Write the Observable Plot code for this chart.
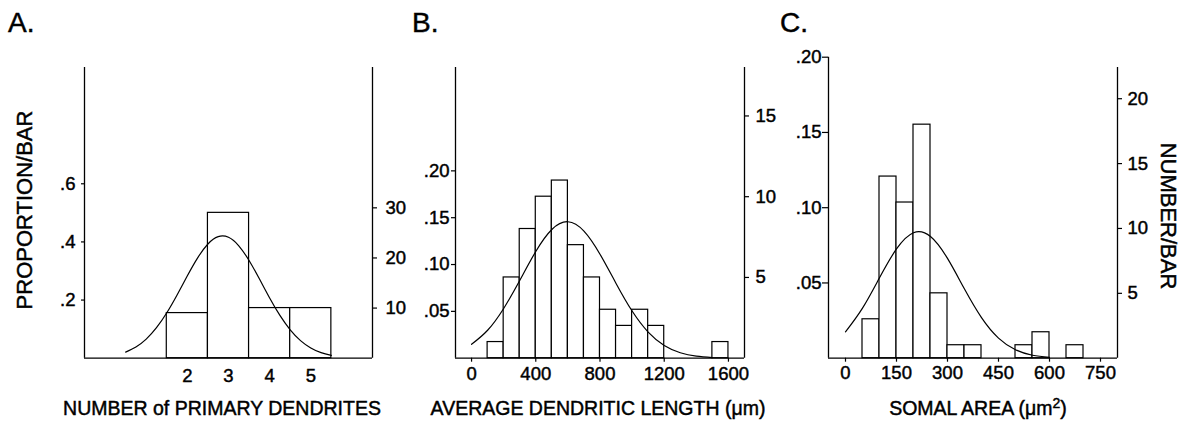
<!DOCTYPE html>
<html><head><meta charset="utf-8">
<script src="https://cdn.jsdelivr.net/npm/d3@7"></script>
<script src="https://cdn.jsdelivr.net/npm/@observablehq/plot@0.6"></script>
<style>
body{margin:0;background:#fff;}
#root{position:relative;width:1189px;height:422px;overflow:hidden;font-family:"Liberation Sans",Arial,sans-serif;color:#000;background:#fff;}
.panel{position:absolute;top:0;}
.panel svg{overflow:visible;}
.panel svg text{stroke:#000;stroke-width:0.45px;}
.lbl{position:absolute;white-space:nowrap;line-height:1;color:#000;-webkit-text-stroke:0.45px #000;}
</style></head><body><div id="root"></div>
<script>
// ---- Panel A: number of primary dendrites ----
const dendriteCats = [2, 3, 4, 5];
const dendriteCounts = [9, 29, 10, 10];
const dendriteFitX = [0.5, 0.75, 1, 1.25, 1.5, 1.75, 2, 2.25, 2.5, 2.75, 3, 3.25, 3.5, 3.75, 4, 4.25, 4.5, 4.75, 5, 5.25, 5.5];
const dendriteFitY = [1.22, 2.23, 3.81, 6.08, 9.06, 12.62, 16.44, 20.02, 22.79, 24.25, 24.12, 22.43, 19.49, 15.84, 12.02, 8.53, 5.66, 3.51, 2.04, 1.10, 0.56];
const dendriteXTicks = [2, 3, 4, 5];
const dendriteRightTicks = [10, 20, 30];
const dendriteLeftTicks = [0.2, 0.4, 0.6];

// ---- Panel B: average dendritic length (bins of 100 µm) ----
const lengthBinStart = [100, 200, 300, 400, 500, 600, 700, 800, 900, 1000, 1100, 1500];
const lengthCounts = [1, 5, 8, 10, 11, 7, 5, 3, 2, 3, 2, 1];
const lengthFitX = [0, 100, 200, 300, 400, 500, 600, 700, 800, 900, 1000, 1100, 1200, 1300, 1400, 1500];
const lengthFitY = [0.86, 1.73, 3.08, 4.81, 6.61, 7.97, 8.45, 7.87, 6.44, 4.63, 2.92, 1.62, 0.79, 0.34, 0.13, 0.04];
const lengthXTicks = [0, 400, 800, 1200, 1600];
const lengthRightTicks = [5, 10, 15];
const lengthLeftTicks = [0.05, 0.10, 0.15, 0.20];

// ---- Panel C: somal area (bins of 50 µm²) ----
const areaBinStart = [50, 100, 150, 200, 250, 300, 350, 500, 550, 650];
const areaCounts = [3, 14, 12, 18, 5, 1, 1, 1, 2, 1];
const areaFitX = [0, 50, 100, 150, 200, 250, 300, 350, 400, 450, 500, 550, 600];
const areaFitY = [2.03, 3.86, 6.20, 8.42, 9.67, 9.38, 7.69, 5.33, 3.13, 1.55, 0.65, 0.23, 0.07];
const areaXTicks = [0, 150, 300, 450, 600, 750];
const areaRightTicks = [5, 10, 15, 20];
const areaLeftTicks = [0.05, 0.10, 0.15, 0.20];

const FONT = '"Liberation Sans", Arial, sans-serif';
const root = document.getElementById("root");

function panel(o) {
  const bars = o.starts.map((s, i) => ({x1: s, x2: s + o.binWidth, n: o.counts[i]}));
  const fit = o.fitX.map((x, i) => ({x, y: o.fitY[i]}));
  const [x0, x1] = o.xDomain;
  const plot = Plot.plot({
    width: o.width, height: 422,
    marginLeft: o.ml, marginRight: o.mr, marginTop: o.mt, marginBottom: 64.3,
    x: {domain: o.xDomain, axis: null},
    y: {domain: [0, o.yTop], axis: null},
    style: {fontFamily: FONT, fontSize: "18.5px", color: "#000", background: "transparent", overflow: "visible"},
    marks: [
      Plot.rectY(bars, {x1: "x1", x2: "x2", y: "n", fill: "white", stroke: "black", strokeWidth: 1.2}),
      Plot.line(fit, {x: "x", y: "y", curve: "natural", stroke: "black", strokeWidth: 1.2}),
      Plot.ruleY([0], {stroke: "black", strokeWidth: 1.3}),
      Plot.ruleX([x0], {y1: 0, y2: o.leftTop, stroke: "black", strokeWidth: 1.3}),
      Plot.ruleX([x1], {y1: 0, y2: o.rightTop, stroke: "black", strokeWidth: 1.3}),
      Plot.axisX(o.xTicks, {anchor: "bottom", tickSize: o.xTickSize, tickPadding: o.xTickPad, label: null, strokeWidth: 1.2, tickFormat: d => String(d)}),
      Plot.axisY(o.rightTicks, {anchor: "right", tickSize: 4, tickPadding: o.rightPad, label: null, strokeWidth: 1.2, tickFormat: d => String(d)}),
      Plot.axisY(o.leftTicks.map(p => p * o.propK), {
        anchor: "left", tickSize: o.leftTickSize, tickPadding: o.leftPad, label: null, strokeWidth: 1.2,
        tickFormat: d => (d / o.propK).toFixed(o.leftDec).replace(/^0/, "")
      })
    ]
  });
  const wrap = document.createElement("div");
  wrap.className = "panel";
  wrap.style.left = o.left + "px";
  wrap.appendChild(plot);
  root.appendChild(wrap);
}

panel({left: 0, width: 415, ml: 84, mr: 415 - 372, mt: 67,
  xDomain: [-0.5, 6.5], yTop: 58, propK: 58, leftDec: 1,
  starts: dendriteCats.map(c => c - 0.5), binWidth: 1, counts: dendriteCounts,
  fitX: dendriteFitX, fitY: dendriteFitY,
  xTicks: dendriteXTicks, xTickSize: 0, xTickPad: 10.5,
  rightTicks: dendriteRightTicks, rightPad: 9,
  leftTicks: dendriteLeftTicks, leftTickSize: 3, leftPad: 6,
  leftTop: 58, rightTop: 58});

panel({left: 400, width: 390, ml: 55, mr: 390 - 344, mt: 67,
  xDomain: [-100, 1700], yTop: 18, propK: 58, leftDec: 2,
  starts: lengthBinStart, binWidth: 100, counts: lengthCounts,
  fitX: lengthFitX, fitY: lengthFitY,
  xTicks: lengthXTicks, xTickSize: 4, xTickPad: 5,
  rightTicks: lengthRightTicks, rightPad: 7,
  leftTicks: lengthLeftTicks, leftTickSize: 4, leftPad: 2,
  leftTop: 18, rightTop: 18});

panel({left: 780, width: 380, ml: 48, mr: 380 - 337, mt: 56.7,
  xDomain: [-50, 800], yTop: 23.2, propK: 116, leftDec: 2,
  starts: areaBinStart, binWidth: 50, counts: areaCounts,
  fitX: areaFitX, fitY: areaFitY,
  xTicks: areaXTicks, xTickSize: 4, xTickPad: 3.5,
  rightTicks: areaRightTicks, rightPad: 6,
  leftTicks: areaLeftTicks, leftTickSize: 6, leftPad: 1,
  leftTop: 23.2, rightTop: 22.4});

function label(html, css) {
  const d = document.createElement("div");
  d.className = "lbl";
  d.innerHTML = html;
  Object.assign(d.style, css);
  root.appendChild(d);
}
label("A.", {left: "8px", top: "9.3px", fontSize: "28px"});
label("B.", {left: "412px", top: "9.3px", fontSize: "28px"});
label("C.", {left: "780px", top: "9.3px", fontSize: "28px"});
label("PROPORTION/BAR", {left: "25px", top: "210px", fontSize: "22px", transform: "translate(-50%,-50%) rotate(-90deg)"});
label("NUMBER/BAR", {left: "1168px", top: "216px", fontSize: "22px", transform: "translate(-50%,-50%) rotate(90deg)"});
label("NUMBER of PRIMARY DENDRITES", {left: "222px", top: "398.5px", fontSize: "19.5px", transform: "translateX(-50%)"});
label("AVERAGE DENDRITIC LENGTH (μm)", {left: "598px", top: "398.5px", fontSize: "19.5px", transform: "translateX(-50%)"});
label('SOMAL AREA (μm<sup style="font-size:0.72em;vertical-align:0.5em;line-height:0">2</sup>)', {left: "978px", top: "398.5px", fontSize: "19.5px", transform: "translateX(-50%)"});
</script>
</body></html>
